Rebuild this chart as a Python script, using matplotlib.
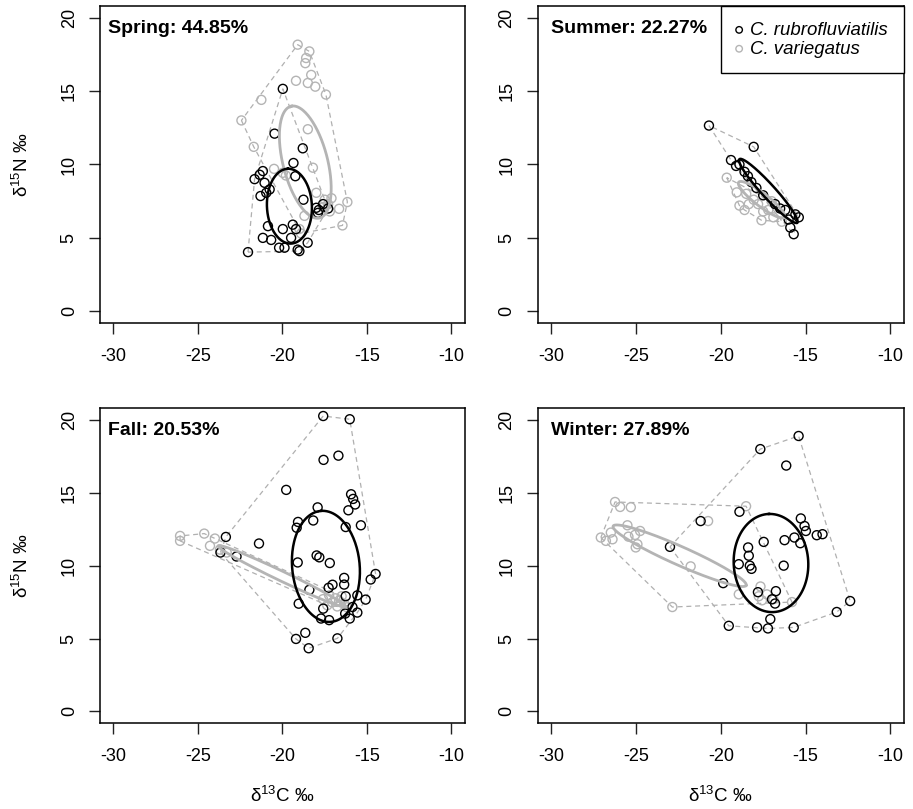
import matplotlib
matplotlib.use("Agg")
import matplotlib.pyplot as plt
import numpy as np

plt.rcParams['font.family'] = ['Liberation Sans', 'DejaVu Sans']
plt.rcParams['axes.unicode_minus'] = False

seasons = ["Spring", "Summer", "Fall", "Winter"]
overlap = ["44.85%", "22.27%", "20.53%", "27.89%"]
species = ["C. rubrofluviatilis", "C. variegatus"]

# points (d13C, d15N)
spring_cr_x = [-19.98, -20.47, -18.8, -19.35, -21.16, -21.35, -21.65, -21.06, -19.24, -20.76,
               -20.96, -21.3, -18.76, -18.0, -17.85, -20.86, -19.39, -19.2, -19.98, -21.16,
               -20.67, -19.49, -20.2, -19.88, -18.51, -19.1, -19.0, -22.04, -17.6, -17.3, -17.9]
spring_cr_y = [15.15, 12.1, 11.1, 10.1, 9.55, 9.3, 9.0, 8.75, 9.2, 8.3,
               8.07, 7.85, 7.6, 7.05, 6.9, 5.8, 5.9, 5.6, 5.6, 5.0,
               4.86, 5.0, 4.33, 4.33, 4.67, 4.2, 4.1, 4.03, 7.3, 7.0, 6.7]
spring_cv_x = [-19.1, -18.41, -18.6, -18.65, -18.3, -19.2, -18.5, -18.06, -17.43, -21.25,
               -22.43, -18.5, -21.7, -18.2, -20.5, -19.98, -19.8, -18.0, -16.16, -16.65,
               -17.5, -17.3, -17.1, -17.6, -17.2, -16.45, -19.0, -18.7, -18.9]
spring_cv_y = [18.16, 17.7, 17.25, 16.9, 16.1, 15.7, 15.55, 15.3, 14.76, 14.4,
               13.0, 12.4, 11.2, 9.78, 9.7, 9.43, 9.25, 8.07, 7.44, 6.98,
               7.6, 7.3, 7.7, 7.1, 6.8, 5.85, 5.6, 6.5, 5.3]

summer_cr_x = [-20.7, -18.06, -19.4, -18.9, -18.6, -18.2, -17.9, -17.5, -16.8, -16.2,
               -15.6, -16.0, -15.9, -15.7, -15.4, -19.1, -18.4, -16.5]
summer_cr_y = [12.65, 11.2, 10.3, 10.0, 9.5, 8.8, 8.4, 7.9, 7.3, 6.9,
               6.6, 6.25, 5.7, 5.25, 6.4, 9.9, 9.2, 7.0]
summer_cv_x = [-19.65, -19.06, -18.35, -18.06, -17.8, -17.5, -17.2, -16.9, -16.4, -18.5,
               -18.6, -17.0, -18.9, -17.6]
summer_cv_y = [9.1, 8.1, 7.3, 7.6, 7.3, 6.8, 6.9, 6.4, 6.1, 8.0,
               6.9, 7.5, 7.2, 6.2]

fall_cr_x = [-17.59, -16.02, -17.57, -16.69, -19.78, -15.94, -15.82, -15.7, -16.1, -17.92,
             -18.18, -19.08, -19.16, -16.26, -15.36, -23.35, -21.39, -23.67, -22.72, -17.98,
             -17.82, -17.2, -19.1, -14.49, -14.78, -16.35, -16.35, -17.04, -17.27, -18.41,
             -16.26, -15.57, -15.08, -19.04, -17.59, -15.86, -15.57, -16.29, -16.02, -17.72,
             -17.24, -18.65, -19.2, -16.75, -18.45]
fall_cr_y = [20.27, 20.05, 17.26, 17.55, 15.2, 14.9, 14.58, 14.2, 13.8, 14.0,
             13.1, 13.0, 12.6, 12.65, 12.77, 11.97, 11.52, 10.9, 10.63, 10.7,
             10.57, 10.18, 10.22, 9.43, 9.05, 9.16, 8.7, 8.69, 8.48, 8.34,
             7.9, 7.96, 7.67, 7.39, 7.05, 7.16, 6.78, 6.71, 6.37, 6.37,
             6.26, 5.39, 4.97, 5.01, 4.33]
fall_cv_x = [-26.06, -26.06, -24.63, -24.0, -24.29, -23.7, -23.3, -17.24, -16.88, -16.65,
             -16.35, -17.06, -16.76, -17.35, -16.18, -17.6, -16.5]
fall_cv_y = [12.04, 11.7, 12.2, 11.86, 11.36, 11.1, 10.9, 7.96, 7.76, 7.6,
             7.4, 7.48, 7.2, 7.28, 7.14, 7.7, 7.9]

winter_cr_x = [-15.41, -17.67, -16.14, -18.9, -21.19, -15.28, -15.06, -14.98, -14.34, -14.0,
               -15.66, -15.31, -16.24, -17.47, -23.0, -18.39, -18.35, -16.29, -18.29, -18.19,
               -18.94, -19.86, -16.75, -17.81, -16.98, -12.37, -13.16, -17.08, -19.53, -17.86,
               -17.22, -15.7, -16.8]
winter_cr_y = [18.9, 18.0, 16.87, 13.7, 13.06, 13.24, 12.72, 12.38, 12.09, 12.16,
               11.93, 11.54, 11.75, 11.63, 11.29, 11.25, 10.68, 10.0, 10.0, 9.78,
               10.1, 8.8, 8.25, 8.18, 7.69, 7.57, 6.82, 6.33, 5.87, 5.76,
               5.69, 5.76, 7.4]
winter_cv_x = [-26.24, -25.94, -25.31, -18.51, -20.75, -25.51, -24.76, -25.06, -25.45, -26.49,
               -27.08, -26.78, -26.39, -24.92, -25.02, -21.78, -17.66, -18.94, -17.76, -17.28,
               -17.57, -15.8, -22.86, -16.9]
winter_cv_y = [14.37, 14.03, 14.01, 14.08, 13.06, 12.77, 12.38, 12.11, 11.99, 12.27,
               11.93, 11.7, 11.81, 11.47, 11.25, 9.95, 8.57, 8.03, 7.9, 8.03,
               7.62, 7.5, 7.16, 7.7]

# standard ellipses: centre, semi-axes, angle (degrees, data space)
ell_cr_cx = [-19.59, -17.2, -17.43, -17.04]
ell_cr_cy = [7.16, 8.2, 9.95, 10.18]
ell_cr_a = [2.55, 2.75, 3.82, 3.37]
ell_cr_b = [1.33, 0.42, 2.0, 2.2]
ell_cr_ang = [92, -52, 94, 92]
ell_cv_cx = [-18.65, -17.6, -20.03, -22.43]
ell_cv_cy = [10.16, 7.6, 9.27, 10.68]
ell_cv_a = [3.9, 1.8, 4.32, 4.42]
ell_cv_b = [1.33, 0.42, 0.32, 0.62]
ell_cv_ang = [102, -42, -29, -27.5]

data = [
    (spring_cr_x, spring_cr_y, spring_cv_x, spring_cv_y),
    (summer_cr_x, summer_cr_y, summer_cv_x, summer_cv_y),
    (fall_cr_x, fall_cr_y, fall_cv_x, fall_cv_y),
    (winter_cr_x, winter_cr_y, winter_cv_x, winter_cv_y),
]

BLACK = "#000000"
GREY = "#b4b4b4"
HULL = "#b0b0b0"


def convex_hull(xs, ys):
    pts = sorted(set(zip(xs, ys)))

    def cross(o, a, b):
        return (a[0] - o[0]) * (b[1] - o[1]) - (a[1] - o[1]) * (b[0] - o[0])

    lower, upper = [], []
    for p in pts:
        while len(lower) >= 2 and cross(lower[-2], lower[-1], p) <= 0:
            lower.pop()
        lower.append(p)
    for p in reversed(pts):
        while len(upper) >= 2 and cross(upper[-2], upper[-1], p) <= 0:
            upper.pop()
        upper.append(p)
    hull = lower[:-1] + upper[:-1]
    hull.append(hull[0])
    return np.array(hull)


def ellipse(cx, cy, a, b, ang):
    t = np.linspace(0, 2 * np.pi, 200)
    th = np.radians(ang)
    x = cx + a * np.cos(t) * np.cos(th) - b * np.sin(t) * np.sin(th)
    y = cy + a * np.cos(t) * np.sin(th) + b * np.sin(t) * np.cos(th)
    return x, y


fig = plt.figure(figsize=(9.13, 8.09), dpi=100)
positions = [
    [0.1095, 0.6007, 0.3998, 0.392],
    [0.589, 0.6007, 0.401, 0.392],
    [0.1095, 0.1063, 0.3998, 0.389],
    [0.589, 0.1063, 0.401, 0.389],
]

for i, season in enumerate(seasons):
    ax = fig.add_axes(positions[i])
    crx, cry, cvx, cvy = data[i]

    for xs, ys in [(crx, cry), (cvx, cvy)]:
        h = convex_hull(xs, ys)
        ax.plot(h[:, 0], h[:, 1], color=HULL, lw=0.9, ls=(0, (4, 3)), zorder=1)

    ax.scatter(crx, cry, s=42, facecolors="none", edgecolors=BLACK, linewidths=1.0,
               zorder=3, label=species[0])
    ax.scatter(cvx, cvy, s=42, facecolors="none", edgecolors=GREY, linewidths=1.0,
               zorder=2, label=species[1])

    ex, ey = ellipse(ell_cv_cx[i], ell_cv_cy[i], ell_cv_a[i], ell_cv_b[i], ell_cv_ang[i])
    ax.plot(ex, ey, color=GREY, lw=2.0, zorder=4)
    ex, ey = ellipse(ell_cr_cx[i], ell_cr_cy[i], ell_cr_a[i], ell_cr_b[i], ell_cr_ang[i])
    ax.plot(ex, ey, color=BLACK, lw=1.8, zorder=5)

    ax.set_xlim(-30.8, -9.2)
    ax.set_ylim(-0.8, 20.8)
    ax.set_xticks([-30, -25, -20, -15, -10])
    ax.set_yticks([0, 5, 10, 15, 20])
    ax.tick_params(direction="out", length=8, width=1, labelsize=13, color="#222222")
    ax.tick_params(axis="x", pad=10)
    ax.tick_params(axis="y", pad=8)
    for lab in ax.get_yticklabels():
        lab.set_rotation(90)
        lab.set_va("center")
    for sp in ax.spines.values():
        sp.set_linewidth(1.1)

    xoff = 0.022 if i % 2 == 0 else 0.035
    ax.text(xoff, 0.955, f"{season}: {overlap[i]}", transform=ax.transAxes,
            fontsize=14, fontweight="bold", ha="left", va="top")

    if i % 2 == 0:
        ax.set_ylabel("δ$^{\\mathregular{15}}$N ‰", fontsize=13.5)
        ax.yaxis.set_label_coords(-0.185, 0.5)
    if i >= 2:
        ax.set_xlabel("δ$^{\\mathregular{13}}$C ‰", fontsize=13.5)
        ax.xaxis.set_label_coords(0.5, -0.197)

    if i == 1:
        leg = ax.legend(loc="upper right", borderaxespad=0, fancybox=False, framealpha=1,
                        edgecolor="black", handletextpad=0.5,
                        borderpad=0.85, labelspacing=0.1, handlelength=0.2,
                        prop={"style": "italic", "size": 13.4})
        leg.get_frame().set_linewidth(1.0)
        for h in leg.legend_handles:
            h.set_sizes([22])

fig.savefig("out.png", dpi=100)
